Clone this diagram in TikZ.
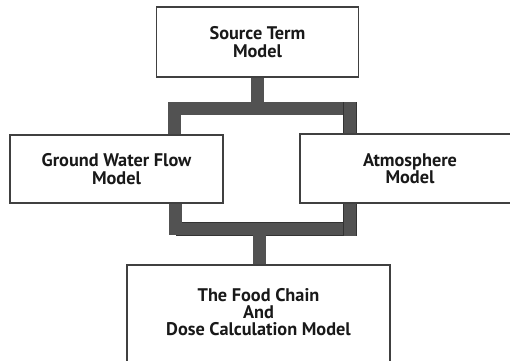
\documentclass[tikz,border=0pt]{standalone}
\usepackage{fontspec}
\setmainfont{PT Sans}
\usetikzlibrary{positioning}

\tikzset{
    model/.style={draw=black!75, line width=1.6pt, fill=white, align=center,
        font=\bfseries\fontsize{26}{24.5}\selectfont, text=black!90},
    pipe/.style={draw=black!80, line width=1pt, double=black!68, double distance=6.2mm}
}

\begin{document}
\begin{tikzpicture}[x=0.5mm, y=-0.5mm]
        \clip (0,0) rectangle (510,361);

        \node[model, minimum width=101mm, minimum height=35mm] (src) at (257.5,42) {Source Term\\Model};
        \node[model, minimum width=106.5mm, minimum height=34mm] (gw) at (116.5,169) {Ground Water Flow\\Model};
        \node[model, minimum width=110mm, minimum height=34.5mm] (atm) at (410,168.5) {Atmosphere\\Model};
        \node[model, minimum width=131.5mm, minimum height=57mm, text depth=10mm] (food) at (258.5,322) {The Food Chain\\And\\Dose Calculation Model};

        \coordinate (upL) at (174.5,108.5);
        \coordinate (upR) at (350,108.5);
        \coordinate (upM) at (257.5,102);
        \coordinate (downL) at (175.5,229);
        \coordinate (downR) at (350,229);
        \coordinate (downM) at (259.5,235);

        \draw[pipe] (src.south) -- (upM);
        \draw[pipe] (upL) -- (upR);
        \draw[pipe] (upL |- upM) -- (upL |- gw.north);
        \draw[pipe] (upR |- upM) -- (upR |- atm.north);

        \draw[pipe] (downL) -- (downR);
        \draw[pipe] (gw.south -| downL) -- ([yshift=-3.2mm]downL);
        \draw[pipe] (atm.south -| downR) -- ([yshift=-3.6mm]downR);
        \draw[pipe] (downM) -- (downM |- food.north);
\end{tikzpicture}
\end{document}
